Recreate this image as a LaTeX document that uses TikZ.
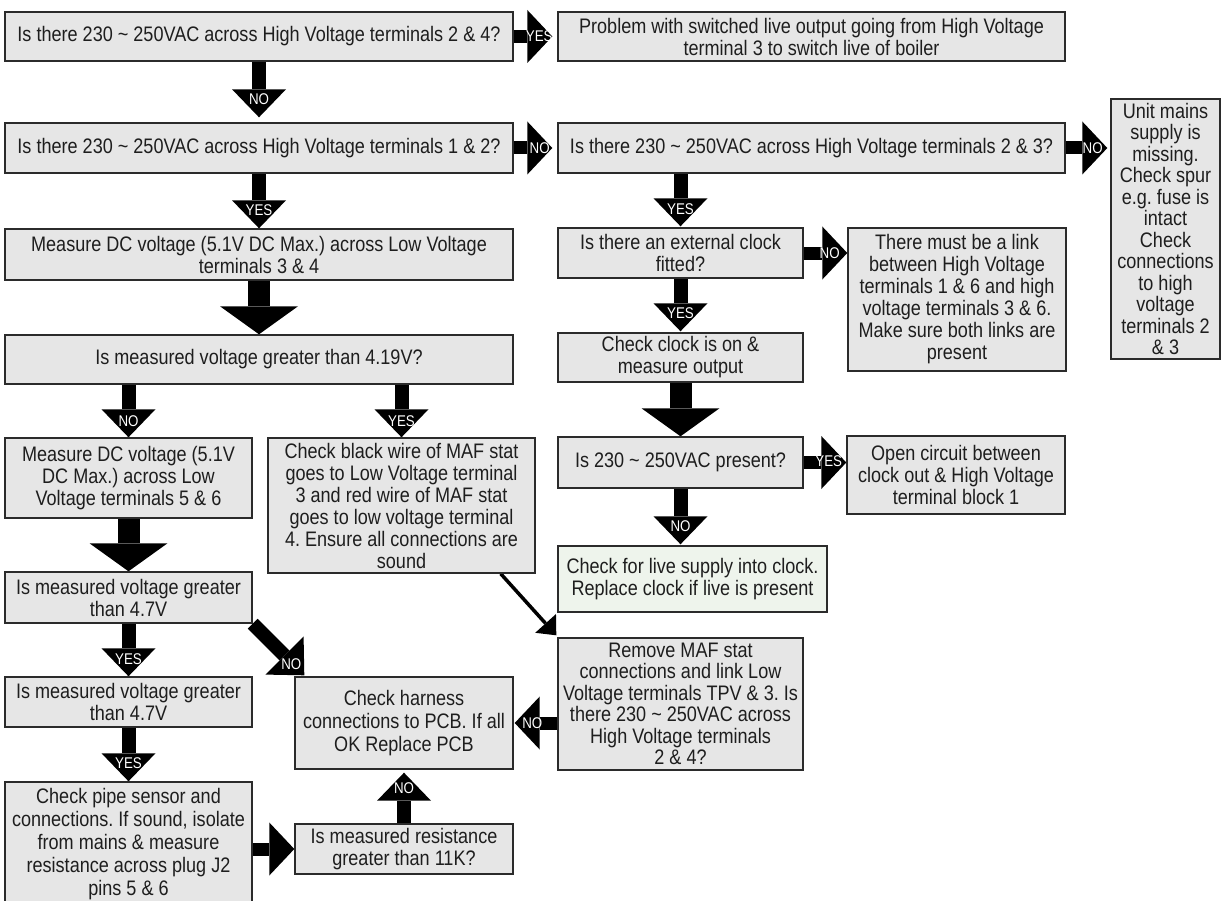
\documentclass[tikz,border=0pt]{standalone}
\usepackage{fontspec}
\setmainfont{Liberation Sans}[FakeStretch=0.86]
\usetikzlibrary{arrows.meta,calc}
\pgfdeclarelayer{bg}
\pgfsetlayers{bg,main}
\definecolor{boxgray}{HTML}{E6E6E6}
\definecolor{boxline}{HTML}{2B2B2B}
\definecolor{boxgreen}{HTML}{EEF4EC}
\definecolor{txt}{HTML}{1E1E1E}
\newcommand\tld{\textasciitilde}
\begin{document}
\frenchspacing
\begin{tikzpicture}[x=1pt,y=-1pt,
  box/.style={draw=boxline, line width=1.4pt, fill=boxgray, inner sep=0pt, align=center, text=txt, font=\fontsize{21}{22}\selectfont},
  sarr/.style={draw=black, line width=14pt, -{Triangle[width=54pt,length=28pt,line width=0pt]}},
  harr/.style={draw=black, line width=13pt, -{Triangle[width=53pt,length=25pt,line width=0pt]}},
  barr/.style={draw=black, line width=22pt, -{Triangle[width=78pt,length=28pt,line width=0pt]}},
  tarr/.style={draw=black, line width=3.5pt, -{Triangle[width=28pt,length=16pt,line width=0pt]}},
  lbl/.style={text=white, inner sep=0pt, font=\fontsize{15.5}{15.5}\selectfont}]
\useasboundingbox (0,0) rectangle (1222,901);
\begin{pgfonlayer}{bg}
\fill[white] (0,0) rectangle (1222,901);
\end{pgfonlayer}
% boxes
\node[box, minimum width=508pt, minimum height=49pt] (q1) at (259,36.5) {Is there 230 \tld{} 250VAC across High Voltage terminals 2 \& 4?};
\node[box, minimum width=507pt, minimum height=49pt] (p) at (811.5,36.5) {Problem with switched live output going from High Voltage\\terminal 3 to switch live of boiler};
\node[box, minimum width=508pt, minimum height=50pt] (q2) at (259,148) {Is there 230 \tld{} 250VAC across High Voltage terminals 1 \& 2?};
\node[box, minimum width=507pt, minimum height=50pt] (q3) at (811.5,148) {Is there 230 \tld{} 250VAC across High Voltage terminals 2 \& 3?};
\node[box, minimum width=109pt, minimum height=260pt, font=\fontsize{21}{21.5}\selectfont] (unit) at (1165.5,229) {Unit mains\\supply is\\missing.\\Check spur\\e.g. fuse is\\intact\\Check\\connections\\to high\\voltage\\terminals 2\\\& 3};
\node[box, minimum width=508pt, minimum height=51pt] (m34) at (259,254.5) {Measure DC voltage (5.1V DC Max.) across Low Voltage\\terminals 3 \& 4};
\node[box, minimum width=245pt, minimum height=50pt] (ext) at (680.5,253) {Is there an external clock\\fitted?};
\node[box, minimum width=218pt, minimum height=143pt] (link) at (957,299.5) {There must be a link\\between High Voltage\\terminals 1 \& 6 and high\\voltage terminals 3 \& 6.\\Make sure both links are\\present};
\node[box, minimum width=245pt, minimum height=49pt] (check) at (680.5,357.5) {Check clock is on \&\\measure output};
\node[box, minimum width=508pt, minimum height=49pt] (t419) at (259,359.5) {Is measured voltage greater than 4.19V?};
\node[box, minimum width=247pt, minimum height=80pt] (m56) at (128.5,478) {Measure DC voltage (5.1V\\DC Max.) across Low\\Voltage terminals 5 \& 6};
\node[box, minimum width=267pt, minimum height=135pt] (maf) at (401.5,505.5) {Check black wire of MAF stat\\goes to Low Voltage terminal\\3 and red wire of MAF stat\\goes to low voltage terminal\\4. Ensure all connections are\\sound};
\node[box, minimum width=245pt, minimum height=51pt] (is230) at (680.5,462.5) {Is 230 \tld{} 250VAC present?};
\node[box, minimum width=218pt, minimum height=78pt] (open) at (956,475) {Open circuit between\\clock out \& High Voltage\\terminal block 1};
\node[box, fill=boxgreen, minimum width=269pt, minimum height=66pt] (green) at (692.5,579) {Check for live supply into clock.\\Replace clock if live is present};
\node[box, minimum width=247pt, minimum height=51pt] (i47a) at (128.5,597.5) {Is measured voltage greater\\than 4.7V};
\node[box, minimum width=247pt, minimum height=50pt] (i47b) at (128.5,702) {Is measured voltage greater\\than 4.7V};
\node[box, minimum width=247pt, minimum height=124pt, font=\fontsize{21}{23}\selectfont] (pipe) at (128.5,844) {Check pipe sensor and\\connections. If sound, isolate\\from mains \& measure\\resistance across plug J2\\pins 5 \& 6};
\node[box, minimum width=218pt, minimum height=92pt, font=\fontsize{21}{23}\selectfont] (harness) at (404,723) {Check harness\\connections to PCB. If all\\OK Replace PCB};
\node[box, minimum width=245pt, minimum height=132pt, font=\fontsize{21}{21.5}\selectfont] (remove) at (680.5,704) {Remove MAF stat\\connections and link Low\\Voltage terminals TPV \& 3. Is\\there 230 \tld{} 250VAC across\\High Voltage terminals\\2 \& 4?};
\node[box, minimum width=218pt, minimum height=50pt] (res) at (404,849) {Is measured resistance\\greater than 11K?};
% connectors
\begin{pgfonlayer}{bg}
\draw[harr, shorten >=5pt] (q1.east) -- (p.west);
\node[lbl] at ($(q1.east)+(25.5,0)$) {YES};
\draw[sarr, shorten >=5pt] (q1.south) -- (q2.north);
\node[lbl] at ($(q1.south)+(0,37)$) {NO};
\draw[harr, shorten >=5pt] (q2.east) -- (q3.west);
\node[lbl] at ($(q2.east)+(26,0)$) {NO};
\draw[sarr] (q2.south) -- (m34.north);
\node[lbl] at ($(q2.south)+(0,36)$) {YES};
\draw[harr, shorten >=3pt] (q3.east) -- (q3.east -| unit.west);
\node[lbl] at ($(q3.east)+(27,0)$) {NO};
\draw[sarr, shorten >=1pt] (ext.north |- q3.south) -- (ext.north);
\node[lbl] at ($(ext.north |- q3.south)+(0,35)$) {YES};
\draw[harr] (ext.east) -- (ext.east -| link.west);
\node[lbl] at ($(ext.east)+(26,0)$) {NO};
\draw[sarr, shorten >=1pt] (ext.south) -- (check.north);
\node[lbl] at ($(ext.south)+(0,34)$) {YES};
\draw[barr] (check.south) -- (is230.north);
\draw[harr] (is230.east) -- (is230.east -| open.west);
\node[lbl] at ($(is230.east)+(25,-1)$) {YES};
\draw[sarr, shorten >=1pt] (is230.south) -- (is230.south |- green.north);
\node[lbl] at ($(is230.south)+(0,37)$) {NO};
\draw[barr] (m34.south) -- (t419.north);
\draw[sarr] (m56.north |- t419.south) -- (m56.north);
\node[lbl] at ($(m56.north |- t419.south)+(0,36)$) {NO};
\draw[sarr] (maf.north |- t419.south) -- (maf.north);
\node[lbl] at ($(maf.north |- t419.south)+(0,36)$) {YES};
\draw[barr] (m56.south) -- (i47a.north);
\draw[sarr] (i47a.south) -- (i47b.north);
\node[lbl] at ($(i47a.south)+(0,35)$) {YES};
\draw[sarr] (i47b.south) -- (pipe.north);
\node[lbl] at ($(i47b.south)+(0,35)$) {YES};
\draw[harr] (pipe.east |- res.west) -- (res.west);
\draw[sarr, shorten >=3pt] (res.north) -- (harness.south);
\node[lbl] at ($(res.north)+(0,-35)$) {NO};
\draw[harr, shorten >=1pt] (remove.west |- harness.east) -- (harness.east);
\node[lbl] at ($(remove.west |- harness.east)+(-25,0)$) {NO};
\draw[sarr] (i47a.south east) -- ($(harness.north west)+(10,-1)$);
\node[lbl] at ($(harness.north west)+(-3,-12)$) {NO};
\draw[tarr] ($(maf.south east)+(-35,0)$) -- ($(remove.north west)+(-1,-2)$);
\end{pgfonlayer}
\end{tikzpicture}
\end{document}
